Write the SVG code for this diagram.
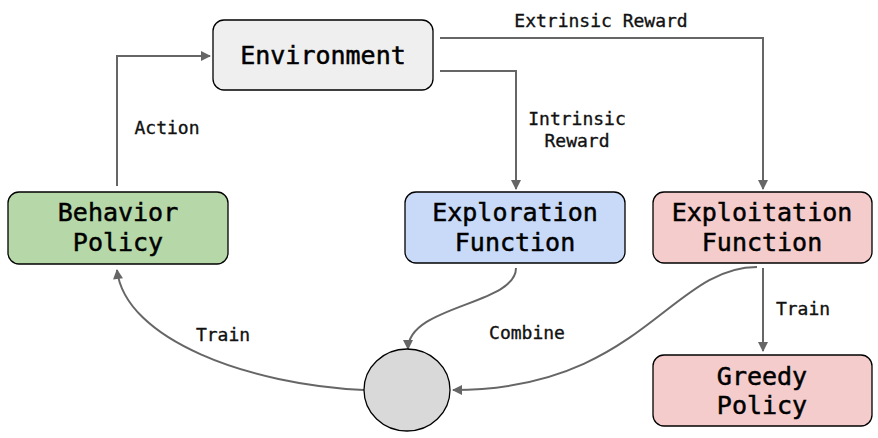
<svg xmlns="http://www.w3.org/2000/svg" width="878" height="438" viewBox="0 0 878 438">
<style>
.box{stroke:#000;stroke-width:1.3}
.nt{font-family:"DejaVu Sans Mono","Liberation Mono",monospace;font-size:25px;fill:#000;stroke:#000;stroke-width:0.5;text-anchor:middle}
.lb{font-family:"DejaVu Sans Mono","Liberation Mono",monospace;font-size:18px;fill:#111;stroke:#111;stroke-width:0.35;text-anchor:middle}
.c{fill:none;stroke:#666;stroke-width:2}
</style>
<defs>
<marker id="ah" viewBox="0 0 10 10" refX="9" refY="5" markerWidth="5.5" markerHeight="5" markerUnits="strokeWidth" orient="auto">
<path d="M0,0 L10,5 L0,10 z" fill="#666"/>
</marker>
</defs>
<rect width="878" height="438" fill="#fff"/>
<g id="connectors">
<path class="c" d="M117,186 V56 H210" marker-end="url(#ah)"/>
<path class="c" d="M440,38 H763 V189" marker-end="url(#ah)"/>
<path class="c" d="M440,71 H516 V189" marker-end="url(#ah)"/>
<path class="c" d="M516,268 C516,305 408,305 408,349" marker-end="url(#ah)"/>
<path class="c" d="M757,267 C670,267 640,390 453,390" marker-end="url(#ah)"/>
<path class="c" d="M763,268 V351" marker-end="url(#ah)"/>
<path class="c" d="M364,390 C250,385 125,340 117,270" marker-end="url(#ah)"/>
<text class="lb" x="601" y="27">Extrinsic Reward</text>
<text class="lb" x="577" y="125">Intrinsic</text>
<text class="lb" x="577" y="147">Reward</text>
<text class="lb" x="167" y="134">Action</text>
<text class="lb" x="223" y="341">Train</text>
<text class="lb" x="527" y="339">Combine</text>
<text class="lb" x="803" y="315">Train</text>
</g>
<g id="environment">
<rect class="box" x="213" y="20" width="220" height="70" rx="11" fill="#efefef"/>
<text class="nt" x="323" y="64">Environment</text>
</g>
<g id="behavior-policy">
<rect class="box" x="8" y="192" width="220" height="72" rx="11" fill="#b6d7a8"/>
<text class="nt" x="118" y="221">Behavior</text>
<text class="nt" x="118" y="251">Policy</text>
</g>
<g id="exploration-function">
<rect class="box" x="405" y="192" width="220" height="71" rx="11" fill="#c9daf8"/>
<text class="nt" x="515" y="221">Exploration</text>
<text class="nt" x="515" y="251">Function</text>
</g>
<g id="exploitation-function">
<rect class="box" x="653" y="192" width="219" height="71" rx="11" fill="#f4cccc"/>
<text class="nt" x="762" y="221">Exploitation</text>
<text class="nt" x="762" y="251">Function</text>
</g>
<g id="greedy-policy">
<rect class="box" x="653" y="355" width="219" height="71" rx="11" fill="#f4cccc"/>
<text class="nt" x="762" y="385">Greedy</text>
<text class="nt" x="762" y="414">Policy</text>
</g>
<g id="combine">
<ellipse class="box" cx="407" cy="390" rx="43" ry="41" fill="#d9d9d9"/>
</g>
</svg>
